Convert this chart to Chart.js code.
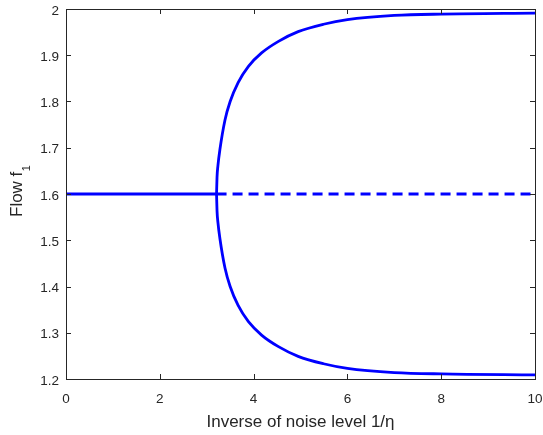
<!DOCTYPE html>
<html>
<head>
<meta charset="utf-8">
<script src="https://cdn.jsdelivr.net/npm/chart.js@4"></script>
<style>
  html, body { margin: 0; padding: 0; background: #fff; }
  #wrap { width: 543px; height: 435px; }
</style>
</head>
<body>
<div id="wrap"><canvas id="myChart" width="543" height="435"></canvas></div>
<script>
// stable branch before the bifurcation
const flatX = [0, 1, 2, 3, 3.21];
const flatY = [1.6, 1.6, 1.6, 1.6, 1.6];

// the two branches after the bifurcation
const branchX = [3.21, 3.22, 3.24, 3.28, 3.39, 3.5, 3.67, 3.89, 4.17, 4.53, 4.95, 5.49, 6.0, 7.0, 8.0, 10.0];
const upperY = [1.6, 1.636, 1.662, 1.695, 1.76, 1.8, 1.841, 1.876, 1.905, 1.93, 1.951, 1.967, 1.977, 1.986, 1.989, 1.991];
const lowerY = [1.6, 1.564, 1.538, 1.505, 1.44, 1.4, 1.359, 1.324, 1.295, 1.27, 1.249, 1.233, 1.223, 1.214, 1.211, 1.209];

// unstable branch (dashed)
const dashX = [3.21, 10];
const dashY = [1.6, 1.6];

const xTicks = [0, 2, 4, 6, 8, 10];
const yTicks = [1.2, 1.3, 1.4, 1.5, 1.6, 1.7, 1.8, 1.9, 2];

const pts = (xs, ys) => xs.map((x, i) => ({ x: x, y: ys[i] }));

const axisColor = "#262626";
const font = "'Liberation Sans', Arial, Helvetica, sans-serif";

// box around the axes with inward ticks, matlab style
const boxPlugin = {
  id: "box",
  afterDraw(chart) {
    const { ctx, chartArea: a, scales } = chart;
    ctx.save();
    ctx.strokeStyle = axisColor;
    ctx.lineWidth = 1;
    ctx.strokeRect(a.left + 0.5, a.top + 0.5, a.right - a.left, a.bottom - a.top);
    ctx.beginPath();
    xTicks.forEach((v) => {
      const px = Math.round(scales.x.getPixelForValue(v)) + 0.5;
      ctx.moveTo(px, a.bottom);
      ctx.lineTo(px, a.bottom - 5);
      ctx.moveTo(px, a.top);
      ctx.lineTo(px, a.top + 5);
    });
    yTicks.forEach((v) => {
      const py = Math.round(scales.y.getPixelForValue(v)) + 0.5;
      ctx.moveTo(a.left, py);
      ctx.lineTo(a.left + 5, py);
      ctx.moveTo(a.right, py);
      ctx.lineTo(a.right - 5, py);
    });
    ctx.stroke();

    // y title with a real subscript
    const cy = (a.top + a.bottom) / 2;
    ctx.fillStyle = axisColor;
    ctx.translate(22, cy + 23);
    ctx.rotate(-Math.PI / 2);
    ctx.textBaseline = "alphabetic";
    ctx.textAlign = "left";
    ctx.font = "17px " + font;
    ctx.fillText("Flow f", 0, 0);
    const w = ctx.measureText("Flow f").width;
    ctx.font = "11px " + font;
    ctx.fillText("1", w + 0.5, 8);
    ctx.restore();
  },
};

const line = (data, dash) => ({
  data: data,
  borderColor: "#0000ff",
  backgroundColor: "#0000ff",
  borderWidth: 2.8,
  borderDash: dash || [],
  pointRadius: 0,
  fill: false,
  cubicInterpolationMode: "monotone",
});

new Chart(document.getElementById("myChart"), {
  type: "line",
  data: {
    datasets: [
      line(pts(flatX, flatY)),
      line(pts(branchX, upperY)),
      line(pts(branchX, lowerY)),
      line(pts(dashX, dashY), [10, 6]),
    ],
  },
  options: {
    responsive: false,
    animation: false,
    layout: { padding: { top: 9, right: 8, left: 0, bottom: 0 } },
    plugins: { legend: { display: false }, tooltip: { enabled: false } },
    scales: {
      x: {
        type: "linear",
        min: 0,
        max: 10,
        afterBuildTicks: (s) => { s.ticks = xTicks.map((v) => ({ value: v })); },
        afterFit: (s) => {
          s.height = 56;
          s.paddingLeft = 0;
          s.paddingRight = 0;
        },
        grid: { display: false, drawTicks: false },
        border: { display: false },
        ticks: { color: axisColor, padding: 12, maxRotation: 0, font: { family: font, size: 13.5 } },
        title: {
          display: true,
          text: "Inverse of noise level 1/η",
          color: axisColor,
          padding: { top: 0, bottom: 2 },
          font: { family: font, size: 17 },
        },
      },
      y: {
        min: 1.2,
        max: 2,
        afterBuildTicks: (s) => { s.ticks = yTicks.map((v) => ({ value: v })); },
        afterFit: (s) => {
          s.width = 66;
          s.paddingTop = 0;
          s.paddingBottom = 0;
        },
        grid: { display: false, drawTicks: false },
        border: { display: false },
        ticks: {
          color: axisColor,
          padding: 7,
          labelOffset: 2,
          font: { family: font, size: 13.5 },
          callback: (v) => String(Math.round(v * 10) / 10),
        },
      },
    },
  },
  plugins: [boxPlugin],
});
</script>
</body>
</html>
